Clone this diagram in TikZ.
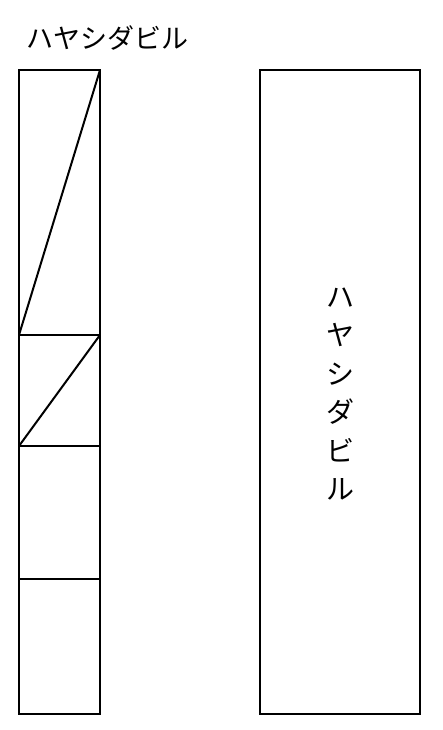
\documentclass[tikz,border=0pt]{standalone}
\usepackage{fontspec}
\newfontfamily\jpfont{Noto Sans CJK JP}
\usetikzlibrary{positioning}
\tikzstyle{floor} = [draw, rectangle, line width=2pt, inner sep=0pt, outer sep=0pt,
minimum width=81pt]
\tikzstyle{tower} = [draw, rectangle, line width=2pt, inner sep=0pt, outer sep=0pt,
minimum width=160pt, minimum height=644pt]
\tikzstyle{title} = [font=\jpfont\fontsize{27}{32}\selectfont, inner sep=0pt]

\begin{document}
\begin{tikzpicture}[x=1pt, y=-1pt]
	\useasboundingbox (0,0) rectangle (442,730);
	% The name above the left column
	\node [title, anchor=west] (name) at (26,38) {ハヤシダビル};
	% We stack the floors of the left column from the top
	\node [floor, minimum height=265pt, anchor=north west] (top) at (19,70) {};
	\node [floor, minimum height=111pt, below=0pt of top] (upper) {};
	\node [floor, minimum height=133pt, below=0pt of upper] (lower) {};
	\node [floor, minimum height=135pt, below=0pt of lower] (base) {};
	% The diagonals across the two upper floors
	\draw [line width=2pt] (top.south west) -- (top.north east);
	\draw [line width=2pt] (upper.south west) -- (upper.north east);
	% The right block, with its name written downwards
	\node [tower, anchor=north west] (block) at (260,70) {};
	\node [align=center, font=\jpfont\fontsize{28}{38.5}\selectfont, inner sep=0pt]
		(label) at (340,394) {ハ\\ヤ\\シ\\ダ\\ビ\\ル};
\end{tikzpicture}
\end{document}
